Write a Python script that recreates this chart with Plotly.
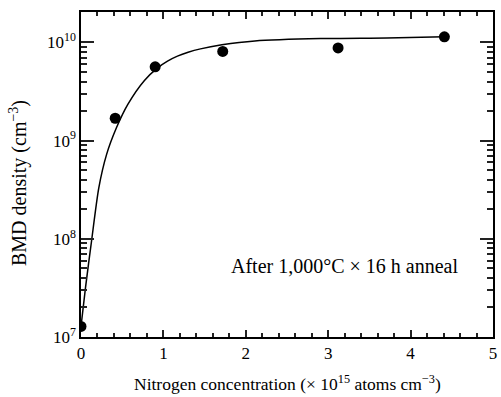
import plotly.graph_objects as go

# Measured data points
n_conc = [0.0, 0.415, 0.90, 1.72, 3.12, 4.41]
bmd = [1.28e7, 1.69e9, 5.64e9, 8.1e9, 8.8e9, 1.14e10]

# Fitted curve
curve_x = [0.0, 0.055, 0.128, 0.216, 0.31, 0.43, 0.57, 0.77, 0.93, 1.05, 1.17, 1.30, 1.45,
           1.71, 2.11, 2.91, 3.71, 4.41]
curve_y = [1.28e7, 3.2e7, 9.5e7, 3.3e8, 7.2e8, 1.35e9, 2.35e9, 4.1e9, 5.5e9, 6.45e9, 7.25e9,
           7.95e9, 8.6e9, 9.45e9, 1.035e10, 1.095e10, 1.11e10, 1.14e10]

x_tickvals = [0, 1, 2, 3, 4, 5]
x_ticktext = ["0", "1", "2", "3", "4", "5"]
x_minorvals = [0.2, 0.4, 0.6, 0.8, 1.2, 1.4, 1.6, 1.8, 2.2, 2.4, 2.6, 2.8,
               3.2, 3.4, 3.6, 3.8, 4.2, 4.4, 4.6, 4.8]
y_tickvals = [1e7, 1e8, 1e9, 1e10]
y_ticktext = ["10<sup>7</sup>", "10<sup>8</sup>", "10<sup>9</sup>", "10<sup>10</sup>"]
y_minorvals = [2e7, 3e7, 4e7, 5e7, 6e7, 7e7, 8e7, 9e7,
               2e8, 3e8, 4e8, 5e8, 6e8, 7e8, 8e8, 9e8,
               2e9, 3e9, 4e9, 5e9, 6e9, 7e9, 8e9, 9e9,
               2e10]

FONT = "Liberation Serif"
INK = "#000000"
TICK_INK = "#222222"
X_RANGE = [0, 5]
Y_RANGE = [7, 10.31]

fig = go.Figure()
fig.add_trace(go.Scatter(x=curve_x, y=curve_y, mode="lines",
                         line=dict(color=INK, width=1.5, shape="spline", smoothing=0.7),
                         showlegend=False, hoverinfo="skip"))
fig.add_trace(go.Scatter(x=n_conc, y=bmd, mode="markers",
                         marker=dict(color=INK, size=11),
                         showlegend=False))

fig.add_annotation(x=3.2, y=7.72, xref="x", yref="y", text="After 1,000°C × 16 h anneal",
                   showarrow=False, font=dict(family=FONT, size=20, color=INK))
fig.add_annotation(x=0.5, y=-0.14, xref="paper", yref="paper", yanchor="middle",
                   text="Nitrogen concentration (× 10<sup>15</sup> atoms cm<sup>−3</sup>)",
                   showarrow=False, font=dict(family=FONT, size=17.5, color=INK))
fig.add_annotation(x=-0.152, y=0.475, xref="paper", yref="paper", xanchor="center", yanchor="middle",
                   text="BMD density (cm<sup>−3</sup>)", textangle=-90,
                   showarrow=False, font=dict(family=FONT, size=20, color=INK))

fig.update_layout(
    width=501, height=397,
    margin=dict(l=81, r=4, t=12, b=60),
    paper_bgcolor="white", plot_bgcolor="white",
    font=dict(family=FONT, color=INK, size=17),
    xaxis=dict(range=X_RANGE, tickmode="array", tickvals=x_tickvals, ticktext=x_ticktext,
               ticks="inside", ticklen=7, tickwidth=2, tickcolor=TICK_INK,
               showline=True, linecolor=INK, linewidth=1.5, mirror="allticks",
               showgrid=False, zeroline=False,
               minor=dict(tickmode="array", tickvals=x_minorvals, ticks="inside", ticklen=4,
                          tickwidth=2, tickcolor=TICK_INK, showgrid=False)),
    yaxis=dict(type="log", range=Y_RANGE, tickmode="array", tickvals=y_tickvals, ticktext=y_ticktext,
               ticks="inside", ticklen=13, tickwidth=2, tickcolor=TICK_INK,
               showline=True, linecolor=INK, linewidth=1.5, mirror="allticks",
               showgrid=False, zeroline=False,
               minor=dict(tickmode="array", tickvals=y_minorvals, ticks="inside", ticklen=6,
                          tickwidth=2, tickcolor=TICK_INK, showgrid=False)),
)

fig.write_html("out.html")
